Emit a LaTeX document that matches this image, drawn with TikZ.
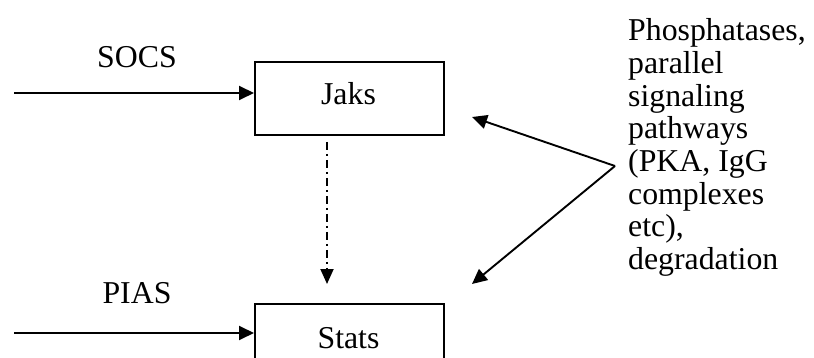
\documentclass[tikz,border=0pt]{standalone}
\usepackage{fontspec}
\setmainfont{Liberation Serif}
\usetikzlibrary{arrows.meta}
\begin{document}
\begin{tikzpicture}[x=1pt,y=-1pt,
  every node/.style={font=\fontsize{31.8}{32.7}\selectfont, inner sep=0pt},
  box/.style={draw, line width=1.9pt, minimum width=189pt, minimum height=73pt, anchor=north west},
  conn/.style={line width=1.9pt, -{Triangle[length=15pt,width=14pt]}},
  dd/.style={line width=1.9pt, dash pattern=on 8pt off 4pt on 2pt off 4pt, -{Triangle[length=15pt,width=13pt]}}]
\useasboundingbox (0,0) rectangle (814,358);
\clip (0,0) rectangle (814,358);
\node[box] (jaks) at (254,61) {};
\node[anchor=base] (jakst) at (348.5,105) {Jaks};
\node[box] (stats) at (254,303) {};
\node[anchor=base] (statst) at (348.5,348) {Stats};
\node[anchor=base] (socs) at (137,68) {SOCS};
\node[anchor=base] (pias) at (137,303) {PIAS};
\coordinate (s0) at (14,93);
\coordinate (p0) at (14,333);
\draw[conn] (s0) -- (s0 -| jaks.west);
\draw[conn] (p0) -- (p0 -| stats.west);
\coordinate (d0) at (327,142);
\coordinate (d1) at (327,284);
\draw[dd] (d0) -- (d1);
\coordinate (apex) at (615,166);
\coordinate (t1) at (472,117);
\coordinate (t2) at (472,284);
\draw[conn] (apex) -- (t1);
\draw[conn] (apex) -- (t2);
\node[anchor=base west, align=left] (txt) at (628,269.5) {Phosphatases,\\parallel\\signaling\\pathways\\(PKA, IgG\\complexes\\etc),\\degradation};
\end{tikzpicture}
\end{document}
